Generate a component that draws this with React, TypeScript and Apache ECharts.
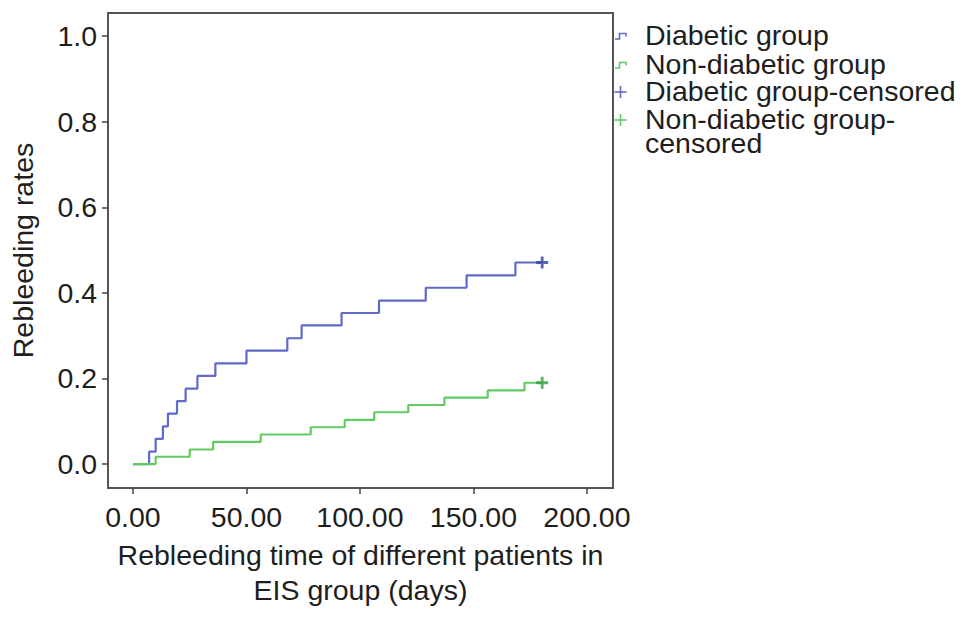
import React, { useEffect, useRef } from "react";
import * as echarts from "echarts";

// ---- data ----
const xTicks = [0, 50, 100, 150, 200];
const yTicks = [0, 0.2, 0.4, 0.6, 0.8, 1.0];

const diabeticTimes = [0, 7.1, 10, 13.2, 15.4, 19.4, 23.2, 28.4, 36.3, 50, 68, 74.3, 91.9, 108.4, 129, 147, 168.5, 180.3];
const diabeticRates = [0, 0.029, 0.059, 0.088, 0.118, 0.147, 0.176, 0.206, 0.235, 0.265, 0.294, 0.324, 0.353, 0.382, 0.412, 0.441, 0.471, 0.471];

const nonDiabeticTimes = [0, 10, 25, 35.3, 56.3, 78.3, 93.3, 106.3, 121.3, 137.2, 156.3, 172.5, 180.3];
const nonDiabeticRates = [0, 0.017, 0.034, 0.052, 0.069, 0.086, 0.103, 0.121, 0.138, 0.155, 0.172, 0.19, 0.19];

const diabeticCensoredTimes = [180.3];
const diabeticCensoredRates = [0.471];
const nonDiabeticCensoredTimes = [180.3];
const nonDiabeticCensoredRates = [0.19];

const legendNames = ["Diabetic group", "Non-diabetic group", "Diabetic group-censored", "Non-diabetic group-censored"];

const FONT = "'Liberation Sans', Arial, Helvetica, sans-serif";
const FS = 28.5;
const BLUE = "#6169c9";
const GREEN = "#62cb62";
const BLUE_DARK = "#3140a6";
const GREEN_DARK = "#2f9e3a";
const TEXT = "#1e1e1e";

const PLUS = "path://M0,4.6 L12,4.6 L12,7.4 L0,7.4 Z M4.6,0 L7.4,0 L7.4,12 L4.6,12 Z";

export default function App() {
  const ref = useRef<HTMLDivElement>(null);

  useEffect(() => {
    if (!ref.current) return;
    const chart = echarts.init(ref.current, undefined, { renderer: "svg" });

    const pair = (xs: number[], ys: number[]) => xs.map((x, i) => [x, ys[i]]);

    const legendText = (text: string, y: number) => ({
      type: "text",
      left: 645,
      top: y - 14.5,
      style: { text, fontSize: FS, fontFamily: FONT, fill: TEXT },
    });

    const stepIcon = (cy: number, color: string) => ({
      type: "polyline",
      shape: { points: [[615, cy + 3], [619.5, cy + 3], [619.5, cy - 2.5], [626, cy - 2.5], [626, cy + 0.5]] },
      style: { stroke: color, lineWidth: 1.6, fill: "none" },
    });

    const plusIcon = (cy: number, color: string) => [
      { type: "line", shape: { x1: 614.5, y1: cy, x2: 626.5, y2: cy }, style: { stroke: color, lineWidth: 1.6 } },
      { type: "line", shape: { x1: 620.5, y1: cy - 6, x2: 620.5, y2: cy + 6 }, style: { stroke: color, lineWidth: 1.6 } },
    ];

    const option: any = {
      animation: false,
      backgroundColor: "#ffffff",
      grid: {
        left: 108,
        top: 13,
        right: 356,
        bottom: 130,
        show: true,
        borderColor: "#555555",
        borderWidth: 2,
        backgroundColor: "transparent",
      },
      xAxis: {
        type: "value",
        min: -11,
        max: 211.5,
        splitLine: { show: false },
        axisLine: { show: false, onZero: false },
        axisTick: { show: true, customValues: xTicks, length: 6, lineStyle: { color: "#444", width: 1.5 } },
        axisLabel: {
          customValues: xTicks,
          formatter: (v: number) => v.toFixed(2),
          fontSize: FS,
          fontFamily: FONT,
          color: TEXT,
          margin: 14,
        },
        name: "Rebleeding time of different patients in\nEIS group (days)",
        nameLocation: "middle",
        nameGap: 49,
        nameTextStyle: { fontSize: FS, fontFamily: FONT, color: TEXT, lineHeight: 35 },
      },
      yAxis: {
        type: "value",
        min: -0.056,
        max: 1.054,
        splitLine: { show: false },
        axisLine: { show: false, onZero: false },
        axisTick: { show: true, customValues: yTicks, length: 6, lineStyle: { color: "#444", width: 1.5 } },
        axisLabel: {
          customValues: yTicks,
          formatter: (v: number) => v.toFixed(1),
          fontSize: FS,
          fontFamily: FONT,
          color: TEXT,
          margin: 11,
        },
        name: "Rebleeding rates",
        nameLocation: "middle",
        nameGap: 71,
        nameTextStyle: { fontSize: FS, fontFamily: FONT, color: TEXT },
      },
      series: [
        {
          type: "line",
          name: legendNames[0],
          data: pair(diabeticTimes, diabeticRates),
          step: "end",
          symbol: "none",
          lineStyle: { color: BLUE, width: 2.2 },
          z: 2,
        },
        {
          type: "line",
          name: legendNames[1],
          data: pair(nonDiabeticTimes, nonDiabeticRates),
          step: "end",
          symbol: "none",
          lineStyle: { color: GREEN, width: 2.2 },
          z: 2,
        },
        {
          type: "scatter",
          name: legendNames[2],
          data: pair(diabeticCensoredTimes, diabeticCensoredRates),
          symbol: PLUS,
          symbolSize: 12,
          itemStyle: { color: BLUE_DARK },
          z: 3,
        },
        {
          type: "scatter",
          name: legendNames[3],
          data: pair(nonDiabeticCensoredTimes, nonDiabeticCensoredRates),
          symbol: PLUS,
          symbolSize: 12,
          itemStyle: { color: GREEN_DARK },
          z: 3,
        },
      ],
      graphic: [
        stepIcon(36, BLUE),
        stepIcon(65, GREEN),
        ...plusIcon(92, BLUE),
        ...plusIcon(120, GREEN),
        legendText(legendNames[0], 35),
        legendText(legendNames[1], 64),
        legendText(legendNames[2], 91),
        legendText("Non-diabetic group-", 119),
        legendText("censored", 143),
      ],
    };

    chart.setOption(option);
    return () => chart.dispose();
  }, []);

  return (
    <div
      ref={ref}
      style={{ position: "fixed", left: 0, top: 0, width: 969, height: 618, background: "#fff" }}
    />
  );
}
